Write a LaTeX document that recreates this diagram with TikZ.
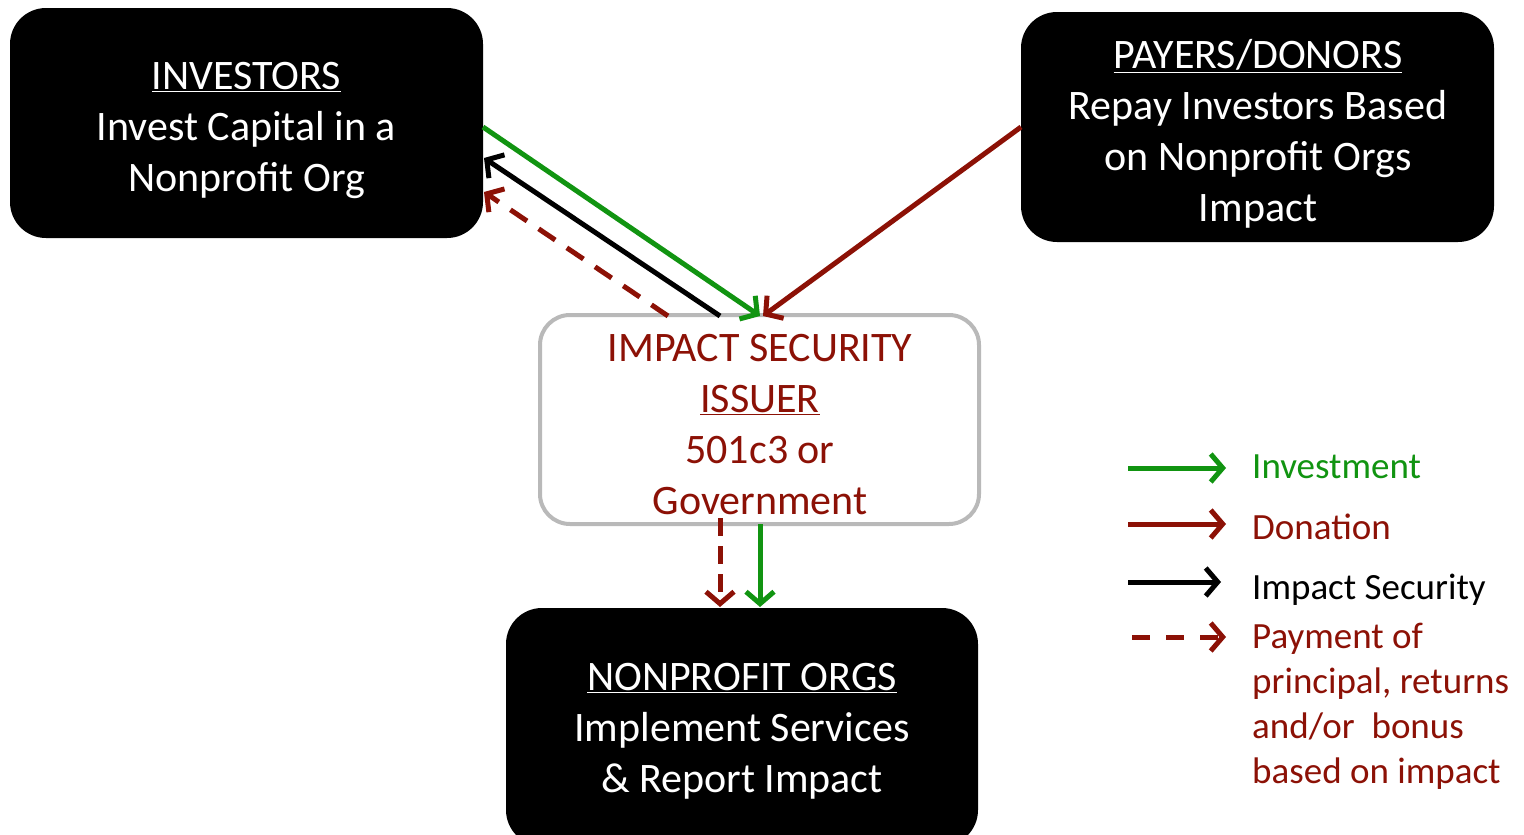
\documentclass[tikz,border=0pt]{standalone}
\usepackage{fontspec}
\setmainfont{Carlito}
\usetikzlibrary{arrows.meta}
\definecolor{dred}{RGB}{140,17,6}
\definecolor{dgreen}{RGB}{17,148,17}
\definecolor{boxgray}{RGB}{185,185,185}
\begin{document}
\begin{tikzpicture}[x=1pt,y=-1pt,
  blackbox/.style={fill=black, rounded corners=36pt, minimum width=473pt, minimum height=230pt,
    text=white, align=center, font=\fontsize{42}{51}\selectfont, inner sep=0pt},
  issbox/.style={draw=boxgray, line width=4pt, fill=white, rounded corners=30pt,
    minimum width=439pt, minimum height=209pt, text=dred, align=center,
    font=\fontsize{42}{51}\selectfont, inner sep=0pt},
  txt/.style={font=\fontsize{42}{51}\selectfont, align=center, inner sep=0pt},
  legtxt/.style={font=\fontsize{37}{45}\selectfont, align=left, inner sep=0pt, anchor=west},
  arr/.style={line width=5pt, -{Straight Barb[length=12pt,width=28pt]}},
  dasharr/.style={arr, dash pattern=on 20pt off 14pt},
]
\useasboundingbox (0,0) rectangle (1524,835);

% boxes
\node[blackbox] (inv) at (246.5,123) {};
\node[txt, text=white] (invt) at (246.5,130) {\underline{INVESTORS}\\Invest Capital in a\\Nonprofit Org};

\node[blackbox] (pay) at (1257.5,127) {};
\node[txt, text=white] (payt) at (1258,134) {\underline{PAYERS/DONORS}\\Repay Investors Based\\on Nonprofit Orgs\\Impact};

\node[issbox] (iss) at (759.5,419.5) {};
\node[txt, text=dred] (isst) at (760,424.5) {IMPACT SECURITY\\\underline{ISSUER}\\501c3 or\\Government};

\node[blackbox, minimum width=472pt, minimum height=238pt] (np) at (742,727) {};
\node[txt, text=white] (npt) at (742,731) {\underline{NONPROFIT ORGS}\\Implement Services\\\& Report Impact};

% connector end points
\coordinate (g1) at (483,127);
\coordinate (g2) at (760,316);
\coordinate (b1) at (720,316);
\coordinate (b2) at (484,158);
\coordinate (d1) at (668,316);
\coordinate (d2) at (484,192);
\coordinate (r1) at (1021,127);
\coordinate (r2) at (763,316);
\coordinate (dd1) at (720,518);
\coordinate (dd2) at (720,607);
\coordinate (gd1) at (760,524);
\coordinate (gd2) at (760,607);

\draw[arr, dgreen] (g1) -- (g2);
\draw[arr, black] (b1) -- (b2);
\draw[dasharr, dred] (d1) -- (d2);
\draw[arr, dred] (r1) -- (r2);
\draw[dasharr, dred, dash pattern=on 18pt off 10pt] (dd1) -- (dd2);
\draw[arr, dgreen] (gd1) -- (gd2);

% legend
\coordinate (l1a) at (1128,468); \coordinate (l1b) at (1226,468);
\coordinate (l2a) at (1128,524); \coordinate (l2b) at (1226,524);
\coordinate (l3a) at (1128,582); \coordinate (l3b) at (1221,582);
\coordinate (l4a) at (1132,637); \coordinate (l4b) at (1226,637);
\draw[arr, dgreen] (l1a) -- (l1b);
\draw[arr, dred] (l2a) -- (l2b);
\draw[arr, black] (l3a) -- (l3b);
\draw[dasharr, dred, dash pattern=on 18pt off 16pt] (l4a) -- (l4b);

\node[legtxt, text=dgreen] (lg1) at (1252,467) {Investment};
\node[legtxt, text=dred] (lg2) at (1252,527) {Donation};
\node[legtxt, text=black] (lg3) at (1252,590) {Impact Security};
\node[legtxt, text=dred] (lg4) at (1252,706) {Payment of\\principal, returns\\and/or\ \ bonus\\based on impact};
\end{tikzpicture}
\end{document}
